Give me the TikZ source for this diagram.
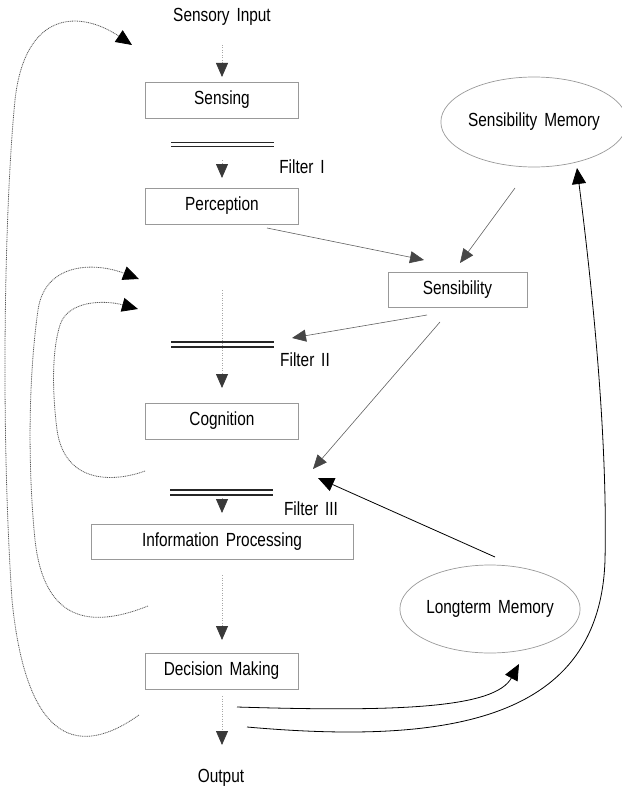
\documentclass[tikz,border=0pt]{standalone}
\usepackage{fontspec}
\setmainfont{Liberation Sans}[FakeStretch=0.81,WordSpace=1.6]
\usetikzlibrary{arrows.meta,shapes.geometric}
\tikzset{
  boxnode/.style={draw=gray!80, line width=0.7pt, minimum width=153pt, minimum height=36pt, inner sep=0pt},
  ellnode/.style={draw=gray!80, line width=0.7pt, ellipse, inner sep=0pt},
  lbl/.style={inner sep=0pt},
  greyarrow/.style={draw=gray!75!black, line width=0.6pt, -{Triangle[length=14pt,width=12pt,color=gray!55!black]}},
  vdots/.style={draw=gray!70, line width=0.8pt, dash pattern=on 1pt off 1.5pt, -{Triangle[length=14pt,width=12pt,color=gray!45!black]}},
  fb/.style={draw=gray!70!black, line width=0.8pt, dash pattern=on 1pt off 0.8pt, -{Triangle[length=16pt,width=14pt,color=black]}},
  blackarrow/.style={draw=black, line width=0.8pt, -{Triangle[length=16pt,width=14pt,color=black]}},
  filterline/.style={draw=black!85, line width=1.6pt}
}
\begin{document}
\begin{tikzpicture}[x=1pt,y=-1pt, font=\fontsize{19}{21}\selectfont]
\useasboundingbox (0,0) rectangle (621,792);
% nodes
\node[lbl] (input) at (222,17) {Sensory Input};
\node[boxnode] (sensing) at (222,100) {Sensing};
\node[lbl] (f1) at (302,167) {Filter I};
\node[boxnode] (perception) at (222,206) {Perception};
\node[lbl] (f2) at (305,360) {Filter II};
\node[boxnode] (cognition) at (222,421) {Cognition};
\node[lbl] (f3) at (311,509) {Filter III};
\node[boxnode, minimum width=262pt, minimum height=35pt] (info) at (222,541.5) {Information Processing};
\node[boxnode] (decision) at (221.5,671) {Decision Making};
\node[lbl] (output) at (221,778) {Output};
\node[ellnode, minimum width=168pt, minimum height=90pt] (smem) at (534,122) {Sensibility Memory};
\node[boxnode, minimum width=139pt, minimum height=35pt] (sensibility) at (457.5,289.5) {Sensibility};
\node[ellnode, minimum width=166pt, minimum height=88pt] (ltm) at (490,609) {Longterm Memory};
% filter double lines
\draw[filterline] (171,142.5) -- (274,142.5);
\draw[filterline] (171,146.5) -- (274,146.5);
\draw[filterline] (171,342) -- (274,342);
\draw[filterline] (171,347) -- (274,347);
\draw[filterline] (170,490) -- (273,490);
\draw[filterline] (170,495) -- (273,495);
% coordinates
\coordinate (a0s) at (222,45);  \coordinate (a0e) at (222,77);
\coordinate (a1s) at (222,160); \coordinate (a1e) at (222,178);
\coordinate (a2s) at (222,290); \coordinate (a2e) at (222,388);
\coordinate (a3s) at (222,498); \coordinate (a3e) at (222,513);
\coordinate (a4s) at (222,575); \coordinate (a4e) at (222,640);
\coordinate (a5s) at (222,696); \coordinate (a5e) at (222,745);
\coordinate (pS) at (267,228); \coordinate (pE) at (424,260);
\coordinate (mS) at (515,188); \coordinate (mE) at (460,263);
\coordinate (s1S) at (427,315); \coordinate (s1E) at (292,338);
\coordinate (s2S) at (440,322); \coordinate (s2E) at (313,469);
\coordinate (lS) at (495,557); \coordinate (lE) at (318,478);
\coordinate (d1S) at (237,707); \coordinate (d1E) at (519,664);
\coordinate (d2S) at (247,727); \coordinate (d2E) at (577,168);
\coordinate (o1S) at (139,715); \coordinate (o1E) at (132,45);
\coordinate (o2S) at (148,606); \coordinate (o2E) at (139,279);
\coordinate (o3S) at (145,471); \coordinate (o3E) at (138,309);
% vertical flow
\draw[vdots] (a0s) -- (a0e);
\draw[vdots] (a1s) -- (a1e);
\draw[vdots] (a2s) -- (a2e);
\draw[vdots] (a3s) -- (a3e);
\draw[vdots] (a4s) -- (a4e);
\draw[vdots] (a5s) -- (a5e);
% grey arrows
\draw[greyarrow] (pS) -- (pE);
\draw[greyarrow] (mS) -- (mE);
\draw[greyarrow] (s1S) -- (s1E);
\draw[greyarrow] (s2S) -- (s2E);
% black arrows
\draw[blackarrow] (lS) -- (lE);
\draw[blackarrow] (d1S) .. controls (400,712) and (495,708) .. (d1E);
\draw[blackarrow] (d2S) .. controls (450,745) and (600,720) .. (605,560) .. controls (608,430) and (590,270) .. (d2E);
% left feedback curves
\draw[fb] (o1S) .. controls (90,750) and (28,760) .. (12,600) .. controls (0,420) and (5,200) .. (15,100) .. controls (25,10) and (80,10) .. (o1E);
\draw[fb] (o2S) .. controls (100,625) and (45,630) .. (35,540) .. controls (28,470) and (28,380) .. (38,310) .. controls (45,262) and (95,262) .. (o2E);
\draw[fb] (o3S) .. controls (115,482) and (65,485) .. (57,430) .. controls (52,390) and (52,350) .. (60,325) .. controls (68,300) and (105,300) .. (o3E);
\end{tikzpicture}
\end{document}
